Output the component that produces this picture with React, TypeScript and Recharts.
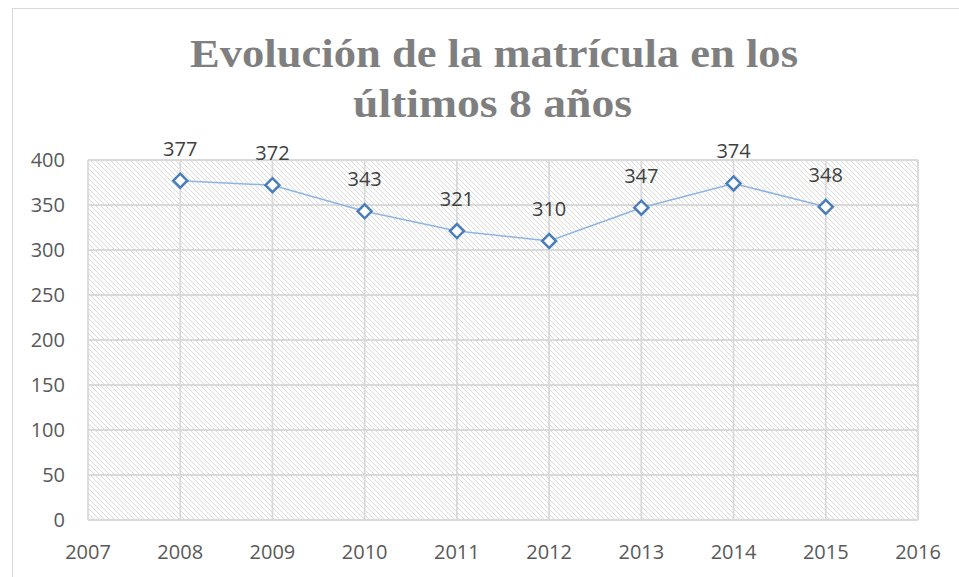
import { LineChart, Line, XAxis, YAxis, CartesianGrid, LabelList } from "recharts";

const years = [2008, 2009, 2010, 2011, 2012, 2013, 2014, 2015];
const enrolment = [377, 372, 343, 321, 310, 347, 374, 348];
const xTicks = [2007, 2008, 2009, 2010, 2011, 2012, 2013, 2014, 2015, 2016];
const yTicks = [0, 50, 100, 150, 200, 250, 300, 350, 400];

const data = years.map((year, i) => ({ year, value: enrolment[i] }));

const FONT = "'Open Sans', 'Liberation Sans', sans-serif";

const Diamond = (props: any) => {
  const { cx, cy } = props;
  if (cx == null || cy == null) return null;
  const r = 7;
  return (
    <path
      d={`M${cx},${cy - r} L${cx + r},${cy} L${cx},${cy + r} L${cx - r},${cy} Z`}
      fill="#ffffff"
      stroke="#4a7ebb"
      strokeWidth={2.5}
    />
  );
};

export default function App() {
  return (
    <div style={{ position: "absolute", left: 0, top: 0, width: 959, height: 577, background: "#fff", overflow: "hidden" }}>
      {/* chart frame */}
      <div style={{ position: "absolute", left: 12, top: 8, width: 960, height: 600, border: "1px solid #d9d9d9" }} />

      <svg width={0} height={0} style={{ position: "absolute" }}>
        <defs>
          <pattern id="hatch" patternUnits="userSpaceOnUse" width={5} height={5}>
            <rect width={5} height={5} fill="#ffffff" />
            <path d="M-1,-1 L6,6 M-1,4 L1,6 M4,-1 L6,1" stroke="#dadada" strokeWidth={1} />
          </pattern>
        </defs>
      </svg>

      {/* title */}
      <svg width={959} height={140} style={{ position: "absolute", left: 0, top: 0 }}>
        <text
          x={190}
          y={67}
          textLength={608}
          lengthAdjust="spacingAndGlyphs"
          fill="#7f7f7f"
          fontFamily="'Liberation Serif', serif"
          fontWeight="bold"
          fontSize={40}
        >
          Evolución de la matrícula en los
        </text>
        <text
          x={353}
          y={117}
          textLength={279}
          lengthAdjust="spacingAndGlyphs"
          fill="#7f7f7f"
          fontFamily="'Liberation Serif', serif"
          fontWeight="bold"
          fontSize={40}
        >
          últimos 8 años
        </text>
      </svg>

      <div style={{ position: "absolute", left: 0, top: 0 }}>
        <LineChart
          width={959}
          height={577}
          data={data}
          margin={{ top: 160, right: 41, bottom: 17, left: 28 }}
        >
          <CartesianGrid stroke="#d9d9d9" strokeWidth={1.8} fill="url(#hatch)" fillOpacity={1} />
          <XAxis
            dataKey="year"
            type="number"
            domain={[2007, 2016]}
            ticks={xTicks}
            interval={0}
            axisLine={false}
            tickLine={false}
            tickSize={0}
            tickMargin={25}
            height={40}
            tick={{ fill: "#595959", fontSize: 20, fontFamily: FONT }}
          />
          <YAxis
            domain={[0, 400]}
            ticks={yTicks}
            interval={0}
            axisLine={false}
            tickLine={false}
            tickSize={0}
            tickMargin={23}
            width={60}
            tick={{ fill: "#595959", fontSize: 20, fontFamily: FONT }}
          />
          <Line
            dataKey="value"
            stroke="#8eb4e3"
            strokeWidth={1.5}
            dot={<Diamond />}
            activeDot={false}
            isAnimationActive={false}
          >
            <LabelList
              dataKey="value"
              position="top"
              offset={25}
              fill="#404040"
              fontSize={20}
              fontFamily={FONT}
            />
          </Line>
        </LineChart>
      </div>
    </div>
  );
}
